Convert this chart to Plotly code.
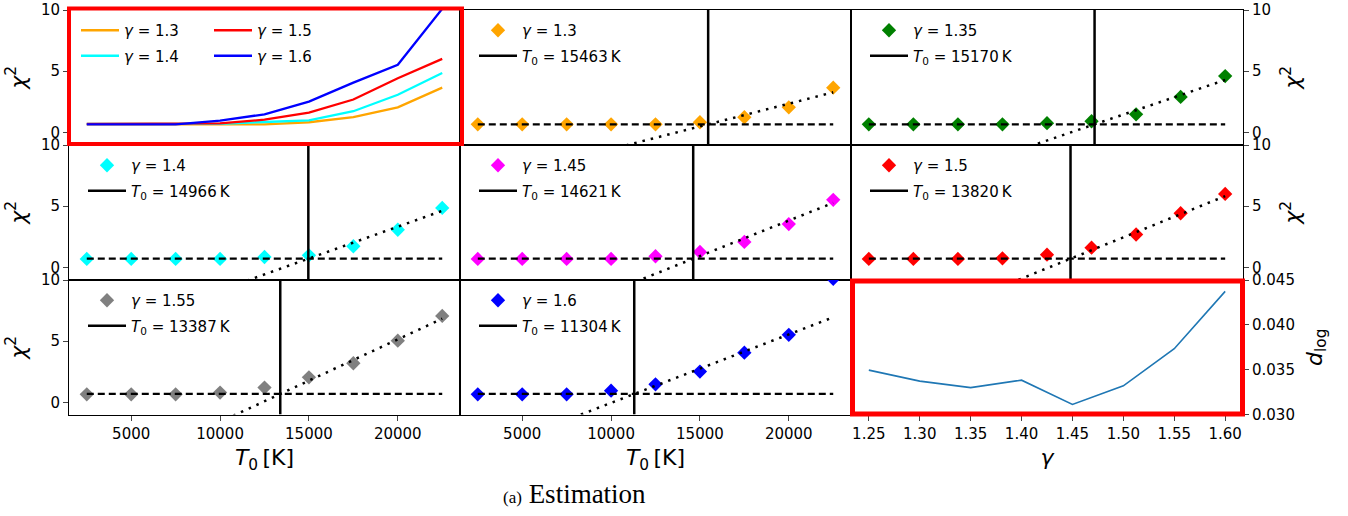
import plotly.graph_objects as go

W, H = 1348, 516

# ---------------- data ----------------
T_grid = [2500, 5000, 7500, 10000, 12500, 15000, 17500, 20000, 22500]
gammas = [1.3, 1.35, 1.4, 1.45, 1.5, 1.55, 1.6]
gamma_labels = ["1.3", "1.35", "1.4", "1.45", "1.5", "1.55", "1.6"]
chi2_g130 = [0.65, 0.65, 0.65, 0.65, 0.65, 0.82, 1.23, 2.04, 3.65]
chi2_g135 = [0.65, 0.65, 0.65, 0.65, 0.74, 0.90, 1.47, 2.89, 4.60]
chi2_g140 = [0.68, 0.68, 0.68, 0.68, 0.84, 0.98, 1.72, 3.07, 4.85]
chi2_g145 = [0.68, 0.68, 0.68, 0.68, 0.90, 1.25, 2.07, 3.53, 5.52]
chi2_g150 = [0.68, 0.68, 0.68, 0.73, 1.03, 1.60, 2.68, 4.42, 6.00]
chi2_g155 = [0.65, 0.65, 0.65, 0.79, 1.20, 2.04, 3.19, 5.04, 7.06]
chi2_g160 = [0.65, 0.65, 0.65, 0.95, 1.47, 2.51, 4.06, 5.52, 10.1]
chi2_all = [chi2_g130, chi2_g135, chi2_g140, chi2_g145, chi2_g150, chi2_g155, chi2_g160]
T0_fit = [15463, 15170, 14966, 14621, 13820, 13387, 11304]
chi2_floor = [0.65, 0.65, 0.70, 0.70, 0.70, 0.68, 0.68]
fit_slope = [3.72e-4, 4.95e-4, 5.2e-4, 5.8e-4, 5.9e-4, 6.75e-4, 5.6e-4]
marker_colors = ["#FFA500", "#008000", "#00FFFF", "#FF00FF", "#FF0000", "#808080", "#0000FF"]

overview_idx = [0, 2, 4, 6]          # gamma = 1.3, 1.4, 1.5, 1.6

gamma_grid = [1.25, 1.30, 1.35, 1.40, 1.45, 1.50, 1.55, 1.60]
d_log = [0.03495, 0.03372, 0.03300, 0.03383, 0.03112, 0.03320, 0.03733, 0.04373]

T_range = [1500, 23500]
chi_range = [-1, 10]
chi_ticks = [0, 5, 10]
T_ticks = [5000, 10000, 15000, 20000]
dlog_range = [0.030, 0.045]
dlog_ticks = [0.030, 0.035, 0.040, 0.045]

# ---------------- geometry ----------------
col_px = [(69, 460), (460, 851), (851, 1243)]
row_px = [(10, 144.5), (145, 279.5), (280, 414.5)]
FONT = "DejaVu Sans"


def px_x(x):
    return x / W


def px_y(y):
    return 1 - y / H


def ax_name(kind, k):
    return kind if k == 1 else f"{kind}{k}"


def ref(kind, k):
    return kind[0] if k == 1 else f"{kind[0]}{k}"


fig = go.Figure()
layout = dict(
    width=W, height=H, margin=dict(l=0, r=0, t=0, b=0),
    paper_bgcolor="white", plot_bgcolor="white",
    font=dict(family=FONT, color="black", size=15),
)

for r in range(3):
    for c in range(3):
        k = r * 3 + c + 1
        x0, x1 = col_px[c]
        yt, yb = row_px[r]
        xa = dict(domain=[px_x(x0), px_x(x1)], anchor=ref("yaxis", k),
                  showline=True, mirror=True, linecolor="black", linewidth=1,
                  showgrid=False, zeroline=False, automargin=False,
                  tickfont=dict(size=15, family=FONT))
        ya = dict(domain=[px_y(yb), px_y(yt)], anchor=ref("xaxis", k),
                  showline=True, mirror=True, linecolor="black", linewidth=1,
                  showgrid=False, zeroline=False, automargin=False,
                  tickfont=dict(size=15, family=FONT))
        if k == 9:
            xa.update(range=[1.2325, 1.6175], tickvals=gamma_grid, tickformat=".2f",
                      ticks="outside", ticklen=5,
                      title=dict(text="<i>γ</i>", font=dict(size=22, family=FONT), standoff=8))
            ya.update(range=dlog_range, tickvals=dlog_ticks, tickformat=".3f", side="right",
                      ticks="outside", ticklen=5,
                      title=dict(text="<i>d</i><sub>log</sub>", font=dict(size=22, family=FONT), standoff=12))
        else:
            xa.update(range=T_range)
            ya.update(range=chi_range)
            if r == 2:
                xa.update(tickvals=T_ticks, tickformat="d", ticks="outside", ticklen=5,
                          title=dict(text="<i>T</i><sub>0</sub>\u2009[K]",
                                     font=dict(size=22, family=FONT), standoff=8))
            else:
                xa.update(showticklabels=False, ticks="")
            if c == 0 or c == 2:
                ya.update(tickvals=chi_ticks, ticks="outside", ticklen=5,
                          side="left" if c == 0 else "right",
                          title=dict(text="<i>χ</i><sup>2</sup>",
                                     font=dict(size=22, family=FONT),
                                     standoff=8 if c == 0 else 14))
            else:
                ya.update(showticklabels=False, ticks="")
        layout[ax_name("xaxis", k)] = xa
        layout[ax_name("yaxis", k)] = ya

leg_common = dict(bgcolor="rgba(0,0,0,0)", borderwidth=0, xanchor="left", yanchor="top",
                  font=dict(size=15, family=FONT), tracegroupgap=3, itemwidth=38)

# ---------------- panel 1 : overview lines ----------------
for j, gi in enumerate(overview_idx):
    fig.add_trace(go.Scatter(
        x=T_grid, y=chi2_all[gi], mode="lines",
        line=dict(color=marker_colors[gi], width=2.3),
        name=f"<i>γ</i> = {gamma_labels[gi]}",
        legend="legend" if j < 2 else "legend2", legendgroup=f"ov{j}",
        xaxis="x", yaxis="y"))

layout["legend"] = dict(x=px_x(69 + 7), y=px_y(14), **leg_common)
layout["legend2"] = dict(x=px_x(69 + 140), y=px_y(14), **leg_common)

# ---------------- panels 2-8 : per-gamma fits ----------------
for i in range(len(gammas)):
    k = i + 2
    r, c = divmod(k - 1, 3)
    xr, yr = ref("xaxis", k), ref("yaxis", k)
    lg = f"legend{k + 1}"
    fig.add_trace(go.Scatter(
        x=T_grid, y=chi2_all[i], mode="markers",
        marker=dict(symbol="diamond", size=11, color=marker_colors[i], line=dict(width=0)),
        name=f"<i>γ</i> = {gamma_labels[i]}", legend=lg, legendgroup=f"m{k}",
        xaxis=xr, yaxis=yr, cliponaxis=True))
    fig.add_trace(go.Scatter(
        x=[T0_fit[i], T0_fit[i]], y=chi_range, mode="lines",
        line=dict(color="black", width=2.5),
        name=f"<i>T</i><sub>0</sub> = {T0_fit[i]}\u2009K", legend=lg, legendgroup=f"v{k}",
        xaxis=xr, yaxis=yr))
    fig.add_trace(go.Scatter(
        x=[T_grid[0], T_grid[-1]], y=[chi2_floor[i], chi2_floor[i]], mode="lines",
        line=dict(color="black", width=2.3, dash="7px,4px"),
        showlegend=False, xaxis=xr, yaxis=yr, hoverinfo="skip"))
    fit_y = [chi2_floor[i] + fit_slope[i] * (t - T0_fit[i]) for t in (T_grid[0], T_grid[-1])]
    fig.add_trace(go.Scatter(
        x=[T_grid[0], T_grid[-1]], y=fit_y, mode="lines",
        line=dict(color="black", width=2.5, dash="2.5px,6px"),
        showlegend=False, xaxis=xr, yaxis=yr, hoverinfo="skip"))
    x0 = col_px[c][0]
    yt = row_px[r][0]
    layout[lg] = dict(x=px_x(x0 + 14), y=px_y(yt + 4), **leg_common)

# ---------------- panel 9 : d_log ----------------
fig.add_trace(go.Scatter(
    x=gamma_grid, y=d_log, mode="lines", line=dict(color="#1f77b4", width=1.6),
    showlegend=False, xaxis="x9", yaxis="y9"))

# ---------------- highlight boxes & caption ----------------
layout["shapes"] = [
    dict(type="rect", xref="paper", yref="paper",
         x0=px_x(69), x1=px_x(462), y0=px_y(144), y1=px_y(8.5),
         line=dict(color="#FF0000", width=4)),
    dict(type="rect", xref="paper", yref="paper",
         x0=px_x(852.5), x1=px_x(1242.5), y0=px_y(414), y1=px_y(281),
         line=dict(color="#FF0000", width=5)),
]
layout["annotations"] = [
    dict(text="<span style='font-size:17px'>(a)</span> Estimation",
         xref="paper", yref="paper", x=px_x(574), y=px_y(494),
         xanchor="center", yanchor="middle", showarrow=False,
         font=dict(family="Liberation Serif", size=27, color="black")),
]

fig.update_layout(**layout)
fig.write_html("out.html")
